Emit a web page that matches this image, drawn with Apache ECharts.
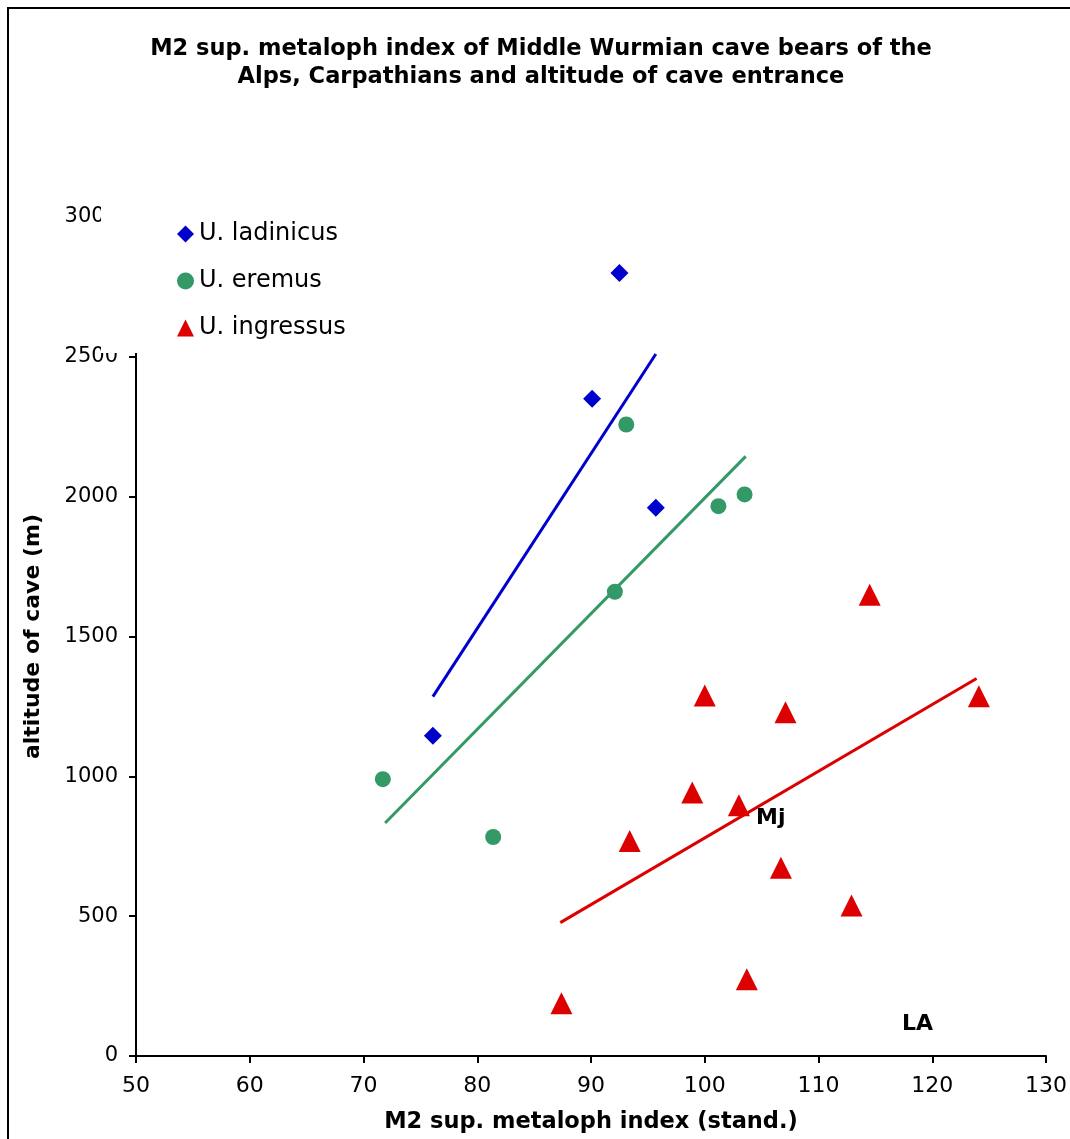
<!DOCTYPE html>
<html>
<head>
<meta charset="utf-8">
<script src="https://cdn.jsdelivr.net/npm/echarts@6/dist/echarts.min.js"></script>
<style>
  html, body { margin: 0; padding: 0; background: #fff; }
  #main { width: 1070px; height: 1139px; }
</style>
</head>
<body>
<div id="main"></div>
<script>
// data: [M2 index, altitude]
var ladinicus = [[76.1, 1145], [90.1, 2350], [92.5, 2800], [95.7, 1960]];
var eremus = [[71.7, 990], [81.4, 783], [93.1, 2258], [92.1, 1660], [101.2, 1966], [103.5, 2008]];
var ingressus = [[87.4, 189], [93.4, 769], [98.9, 942], [100.0, 1289], [103.0, 897], [103.7, 274],
                 [106.7, 673], [107.1, 1229], [112.9, 538], [114.5, 1649], [124.1, 1286]];
// trend line end points
var ladinicusTrend = [[76.1, 1285], [95.7, 2510]];
var eremusTrend = [[71.9, 833], [103.6, 2144]];
var ingressusTrend = [[87.3, 477], [123.9, 1350]];
// text marks
var notes = [[105.8, 851, 'Mj'], [118.7, 114, 'LA']];

var font = 'DejaVu Sans, Verdana, sans-serif';
var chart = echarts.init(document.getElementById('main'));

var option = {
  backgroundColor: '#fff',
  animation: false,
  textStyle: { fontFamily: font },
  title: {
    text: 'M2 sup. metaloph index of Middle Wurmian cave bears of the\nAlps, Carpathians and altitude of cave entrance',
    left: 541,
    textAlign: 'center',
    top: 35,
    padding: 0,
    textStyle: { fontFamily: font, fontSize: 22.5, fontWeight: 'bold', color: '#000', lineHeight: 28 }
  },
  graphic: [{
    type: 'rect',
    shape: { x: 8, y: 8, width: 1200, height: 1300 },
    style: { fill: 'none', stroke: '#000', lineWidth: 2 },
    z: 100
  }],
  legend: {
    data: [
      { name: 'U. ladinicus', icon: 'diamond' },
      { name: 'U. eremus', icon: 'circle' },
      { name: 'U. ingressus', icon: 'triangle' }
    ],
    orient: 'vertical',
    left: 101,
    top: 200,
    padding: [22, 20, 13, 76],
    backgroundColor: '#fff',
    itemWidth: 17,
    itemHeight: 17,
    itemGap: 23,
    textStyle: { fontFamily: font, fontSize: 24, color: '#000', lineHeight: 24 }
  },
  grid: { left: 136, right: 23, top: 217, bottom: 79 },
  xAxis: {
    type: 'value',
    min: 50, max: 130, interval: 10,
    name: 'M2 sup. metaloph index (stand.)',
    nameLocation: 'middle',
    nameGap: 55,
    nameTextStyle: { fontFamily: font, fontSize: 22.5, fontWeight: 'bold', color: '#000' },
    axisLine: { lineStyle: { color: '#000', width: 2 } },
    axisTick: { length: 7, lineStyle: { color: '#000', width: 2 } },
    axisLabel: { margin: 19, fontFamily: font, fontSize: 22, color: '#000' },
    splitLine: { show: false }
  },
  yAxis: {
    type: 'value',
    min: 0, max: 3000, interval: 500,
    name: 'altitude of cave (m)',
    nameLocation: 'middle',
    nameGap: 92,
    nameTextStyle: { fontFamily: font, fontSize: 22, fontWeight: 'bold', color: '#000' },
    axisLine: { show: true, lineStyle: { color: '#000', width: 2 } },
    axisTick: { show: true, length: 7, lineStyle: { color: '#000', width: 2 } },
    axisLabel: {
      margin: 18, fontFamily: font, fontSize: 21, color: '#000',
      formatter: function (v) { return String(v); }
    },
    splitLine: { show: false }
  },
  series: [
    {
      name: 'U. ladinicus', type: 'line', data: ladinicusTrend,
      showSymbol: false, silent: true, z: 1,
      lineStyle: { color: '#0000CC', width: 3 }, itemStyle: { color: '#0000CC' }
    },
    {
      name: 'U. eremus', type: 'line', data: eremusTrend,
      showSymbol: false, silent: true, z: 1,
      lineStyle: { color: '#339966', width: 3 }, itemStyle: { color: '#339966' }
    },
    {
      name: 'U. ingressus', type: 'line', data: ingressusTrend,
      showSymbol: false, silent: true, z: 1,
      lineStyle: { color: '#DD0000', width: 3 }, itemStyle: { color: '#DD0000' }
    },
    {
      name: 'U. ladinicus', type: 'scatter', data: ladinicus,
      symbol: 'diamond', symbolSize: 18,
      itemStyle: { color: '#0000CC', opacity: 1 }
    },
    {
      name: 'U. eremus', type: 'scatter', data: eremus,
      symbol: 'circle', symbolSize: 16,
      itemStyle: { color: '#339966', opacity: 1 }
    },
    {
      name: 'U. ingressus', type: 'scatter', data: ingressus,
      symbol: 'triangle', symbolSize: 22,
      itemStyle: { color: '#DD0000', opacity: 1 }
    },
    {
      name: 'notes', type: 'scatter', data: notes,
      symbolSize: 0, silent: true,
      itemStyle: { opacity: 1 },
      label: {
        show: true, position: 'inside',
        formatter: function (p) { return p.data[2]; },
        fontFamily: font, fontSize: 22, fontWeight: 'bold', color: '#000'
      }
    }
  ]
};
chart.setOption(option);
</script>
</body>
</html>
